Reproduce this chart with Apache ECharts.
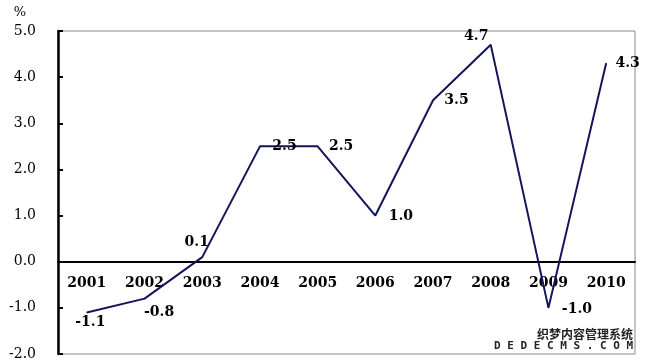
<!DOCTYPE html>
<html>
<head>
<meta charset="utf-8">
<script src="https://cdn.jsdelivr.net/npm/echarts@6/dist/echarts.min.js"></script>
<style>html,body{margin:0;padding:0;background:#fff}#c{width:645px;height:363px}</style>
</head>
<body>
<div id="c"></div>
<script>
const categories = ['2001','2002','2003','2004','2005','2006','2007','2008','2009','2010'];
const values = [-1.1, -0.8, 0.1, 2.5, 2.5, 1.0, 3.5, 4.7, -1.0, 4.3];
const yTicks = [-2, -1, 0, 1, 2, 3, 4, 5];

// label placement style (not data): offset of label centre from the point
const labelOffsets = [[4,10],[15,14],[-5,-14],[25,1],[24,1],[26,1],[24,1],[-14,-8],[29,2],[22,1]];

const font = '"DejaVu Serif", "Liberation Serif", serif';
const chart = echarts.init(document.getElementById('c'));
const option = {
  animation: false,
  grid: {left: 58, right: 10, top: 31, bottom: 9, outerBoundsMode: 'none', containLabel: false,
    show: true, borderColor: '#888', borderWidth: 1, backgroundColor: 'transparent'},
  xAxis: {
    type: 'category', data: categories, boundaryGap: true, position: 'bottom', offset: 0,
    axisLine: {onZero: false, lineStyle: {color: '#000', width: 2}},
    axisTick: {inside: true, length: 5, lineStyle: {color: '#000', width: 1.5}},
    axisLabel: {color: '#000', fontFamily: font, fontWeight: 'bold', fontSize: 14, margin: 15},
    splitLine: {show: false}
  },
  yAxis: {
    type: 'value', min: yTicks[0], max: yTicks[yTicks.length-1], interval: 1,
    axisLine: {show: true, lineStyle: {color: '#000', width: 2.5}},
    axisTick: {show: true, inside: true, length: 5, lineStyle: {color: '#000', width: 2}},
    axisLabel: {color: '#000', fontFamily: font, fontSize: 14, margin: 22, formatter: v => v.toFixed(1)},
    splitLine: {show: false},
    name: '%', nameLocation: 'end', nameGap: 12,
    nameTextStyle: {color: '#000', fontFamily: font, fontSize: 13, align: 'right', padding: [0, 32, 0, 0]}
  },
  series: [{
    type: 'line', data: values.map((v, i) => ({
      value: v,
      label: {show: true, position: labelOffsets[i], align: 'center', verticalAlign: 'middle'}
    })),
    symbol: 'circle', symbolSize: 1, showSymbol: true,
    itemStyle: {color: '#14145a'},
    lineStyle: {color: '#14145a', width: 2},
    labelLayout: {hideOverlap: false},
    label: {show: true, align: 'center', verticalAlign: 'middle',
      color: '#000', fontFamily: font, fontWeight: 'bold', fontSize: 14,
      formatter: p => p.value.toFixed(1)}
  }],
  graphic: [
    {type: 'text', right: 11, bottom: 22, style: {text: '织梦内容管理系统', font: 'bold 12px "Noto Sans CJK SC"', fill: '#222', stroke: '#fff', lineWidth: 2}},
    {type: 'text', right: 11, bottom: 10, style: {text: 'D E D E C M S . C O M', font: 'bold 11px "DejaVu Sans Mono"', fill: '#222', stroke: '#fff', lineWidth: 2}}
  ]
};
chart.setOption(option);
// move x axis up to the zero line using the library's own scale
const zeroY = chart.convertToPixel({yAxisIndex: 0}, 0);
const bottomY = chart.convertToPixel({yAxisIndex: 0}, yTicks[0]);
chart.setOption({xAxis: {offset: -(bottomY - zeroY)}});
</script>
</body>
</html>
